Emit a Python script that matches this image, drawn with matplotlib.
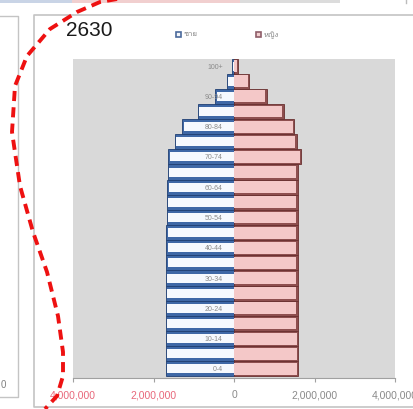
import matplotlib
matplotlib.use("Agg")
import matplotlib.pyplot as plt
from matplotlib import font_manager
from matplotlib.lines import Line2D
from matplotlib.patches import Rectangle

# 年龄组 (0-4 ... 100+)
ages = ['0-4', '5-9', '10-14', '15-19', '20-24', '25-29', '30-34', '35-39',
        '40-44', '45-49', '50-54', '55-59', '60-64', '65-69', '70-74',
        '75-79', '80-84', '85-89', '90-94', '95-99', '100+']

# 男性 / 女性 人口 (百万)
male = [1.70, 1.70, 1.70, 1.70, 1.70, 1.70, 1.70, 1.69, 1.68, 1.68, 1.67,
        1.67, 1.66, 1.65, 1.63, 1.47, 1.29, 0.90, 0.46, 0.18, 0.06]
female = [1.60, 1.60, 1.60, 1.59, 1.59, 1.58, 1.58, 1.58, 1.58, 1.58, 1.58,
          1.58, 1.58, 1.59, 1.67, 1.56, 1.50, 1.24, 0.82, 0.38, 0.11]
male = [v * 1e6 for v in male]
female = [v * 1e6 for v in female]

xticks = [-4e6, -2e6, 0, 2e6, 4e6]
xtick_labels = ['4,000,000', '2,000,000', '0', '2,000,000', '4,000,000']
legend_labels = ['ชาย', 'หญิง']
title = '2630'

# 找一个能显示泰文的字体
thai = [f.name for f in font_manager.fontManager.ttflist
        if 'thai' in f.name.lower() or f.name in ('Loma', 'Garuda', 'Norasi', 'Kinnari', 'Waree', 'Sawasdee', 'Umpush', 'Laksaman')]
thai_family = (thai[:1] if thai else []) + ['Noto Sans', 'DejaVu Sans']

W, H = 413, 410
fig = plt.figure(figsize=(W / 100, H / 100), dpi=100)
fig.patch.set_facecolor('white')


def fx(px):
    return px / W


def fy(py):
    return 1 - py / H


# 背景: 上方残留的图 + 左侧面板 + 主面板边框
fig.add_artist(Rectangle((0, fy(3.5)), fx(72), fy(0) - fy(3.5), transform=fig.transFigure,
                         facecolor='#c9d4e6', edgecolor='none'))
fig.add_artist(Rectangle((fx(72), fy(3.5)), fx(168), fy(0) - fy(3.5), transform=fig.transFigure,
                         facecolor='#f1cfcf', edgecolor='none'))
fig.add_artist(Rectangle((fx(240), fy(3.5)), fx(100), fy(0) - fy(3.5), transform=fig.transFigure,
                         facecolor='#dcdcdc', edgecolor='none'))
fig.add_artist(Line2D([fx(406), fx(406)], [fy(0), fy(4)], transform=fig.transFigure,
                      color='#bcbcbc', lw=1))
# 左侧面板
fig.add_artist(Line2D([fx(0), fx(18), fx(18), fx(0)], [fy(17), fy(17), fy(398), fy(398)],
                      transform=fig.transFigure, color='#c4c4c4', lw=1))
fig.text(fx(1), fy(385), '0', fontsize=7, color='#808080', va='center', ha='left',
         family='Liberation Sans')
# 主面板
fig.add_artist(Line2D([fx(413), fx(34), fx(34), fx(413)], [fy(16), fy(16), fy(408), fy(408)],
                      transform=fig.transFigure, color='#c4c4c4', lw=1.2))

ax = fig.add_axes([fx(73), fy(379), fx(395) - fx(73), fy(59.5) - fy(379)])
ax.set_facecolor('#d9d9d9')

y = list(range(len(ages)))
# 男: 蓝色外框 + 白色内部
ax.barh(y, [-v for v in male], height=1.0, color='#3f68a6', edgecolor='#203f72', linewidth=0.6, zorder=2)
ax.barh(y, [-(v - 0.04e6) for v in male], height=0.6, color='#f6f9fe', edgecolor='none', zorder=3)
# 女: 深红外框 + 粉色内部
ax.barh(y, female, height=1.0, color='#8e4f4f', edgecolor='#6a3030', linewidth=0.6, zorder=2)
ax.barh(y, [v - 0.04e6 for v in female], height=0.78, color='#f4c8c8', edgecolor='none', zorder=3)

# 年龄标签 (隔一个显示)
for i, a in enumerate(ages):
    if i % 2 == 0:
        ax.text(-0.28e6, i, a, fontsize=5, color='#8a8a8a', ha='right', va='center',
                family='Liberation Sans', zorder=4)

ax.set_xlim(-4e6, 4e6)
ax.set_ylim(-0.6, 20.5)
ax.set_yticks([])
ax.set_xticks(xticks)
ax.set_xticklabels(xtick_labels, family='Liberation Sans', fontsize=7.5)
for lbl, v in zip(ax.get_xticklabels(), xticks):
    lbl.set_color('#e8677a' if v < 0 else '#8a8a8a')
ax.tick_params(axis='x', length=3, color='#a0a0a0', pad=5)
for s in ['top', 'left', 'right']:
    ax.spines[s].set_visible(False)
ax.spines['bottom'].set_color('#a0a0a0')
ax.spines['bottom'].set_linewidth(0.8)

# 标题
fig.text(fx(66), fy(30), title, fontsize=15, family='Liberation Sans', color='#1a1a1a',
         ha='left', va='center')

# 图例
fig.add_artist(Rectangle((fx(175.5), fy(37.5)), fx(5), fy(32.5) - fy(37.5), transform=fig.transFigure,
                         facecolor='#f3f6fb', edgecolor='#4b6a9c', lw=1.2))
fig.text(fx(184), fy(35), legend_labels[0], fontsize=5.5, color='#808080', ha='left', va='center',
         family=thai_family)
fig.add_artist(Rectangle((fx(255.5), fy(37.5)), fx(5), fy(32.5) - fy(37.5), transform=fig.transFigure,
                         facecolor='#f2cfcf', edgecolor='#8e5e6a', lw=1.2))
fig.text(fx(264), fy(35), legend_labels[1], fontsize=5.5, color='#808080', ha='left', va='center',
         family=thai_family)

# 红色虚线曲线
cx = [117, 100, 77, 50, 27, 15, 12, 20, 33, 47, 58, 63, 63, 57, 45]
cy = [0, 3, 13, 30, 57, 87, 133, 187, 233, 273, 317, 353, 377, 397, 410]
fig.add_artist(Line2D([fx(v) for v in cx], [fy(v) for v in cy], transform=fig.transFigure,
                      color='#ee1111', lw=2.8, dashes=(2.6, 1.6), zorder=10))

fig.savefig('out.png', dpi=100)
